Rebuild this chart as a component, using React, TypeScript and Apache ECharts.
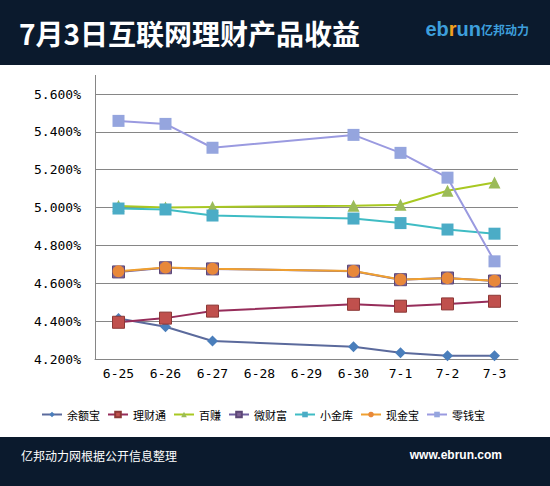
import React, { useEffect, useRef } from "react";
import * as echarts from "echarts";

const categories = ["6-25", "6-26", "6-27", "6-28", "6-29", "6-30", "7-1", "7-2", "7-3"];
const yuebao = [4.414, 4.37, 4.295, null, null, 4.265, 4.233, 4.217, 4.217];
const licaitong = [4.394, 4.416, 4.453, null, null, 4.489, 4.479, 4.491, 4.505];
const baizhuan = [5.008, 5.0, 5.003, null, null, 5.01, 5.015, 5.089, 5.133];
const weicaifu = [4.66, 4.682, 4.676, null, null, 4.664, 4.619, 4.628, 4.612];
const xiaojinku = [4.995, 4.99, 4.958, null, null, 4.942, 4.918, 4.884, 4.862];
const xianjinbao = [4.663, 4.683, 4.677, null, null, 4.665, 4.62, 4.627, 4.614];
const lingqianbao = [5.458, 5.442, 5.316, null, null, 5.384, 5.289, 5.158, 4.716];

const yMin = 4.2;
const yMax = 5.6;
const yStep = 0.2;

const titleText = "7月3日互联网理财产品收益";
const footerLeft = "亿邦动力网根据公开信息整理";
const footerRight = "www.ebrun.com";

export default function App() {
  const ref = useRef<HTMLDivElement>(null);
  useEffect(() => {
    document.body.style.margin = "0";
    const chart = echarts.init(ref.current!, null, { renderer: "svg" });
    const mk = (
      name: string,
      data: (number | null)[],
      symbol: string,
      size: number,
      itemColor: string,
      lineColor: string,
      borderColor?: string
    ) => ({
      name,
      type: "line",
      data,
      connectNulls: true,
      symbol,
      symbolSize: size,
      showAllSymbol: true,
      itemStyle: {
        color: itemColor,
        borderColor: borderColor || itemColor,
        borderWidth: borderColor ? 1 : 0,
        opacity: 1,
      },
      lineStyle: { color: lineColor, width: 2 },
      emphasis: { disabled: true },
    });
    chart.setOption({
      animation: false,
      backgroundColor: "#ffffff",
      textStyle: { fontFamily: "'Noto Sans CJK SC', sans-serif" },
      grid: { left: 95, right: 32, top: 94, bottom: 127, containLabel: false },
      xAxis: {
        type: "category",
        data: categories,
        boundaryGap: true,
        axisLine: { lineStyle: { color: "#868686", width: 1 } },
        axisTick: { show: false },
        axisLabel: {
          color: "#000",
          fontSize: 13,
          fontFamily: "'DejaVu Sans Mono', monospace",
          margin: 8,
          interval: 0,
        },
      },
      yAxis: {
        type: "value",
        min: yMin,
        max: yMax,
        interval: yStep,
        axisLine: { show: true, lineStyle: { color: "#868686", width: 1 } },
        axisTick: { show: false },
        splitLine: { lineStyle: { color: "#868686", width: 1 } },
        axisLabel: {
          color: "#000",
          fontSize: 13,
          fontFamily: "'DejaVu Sans Mono', monospace",
          margin: 14,
          formatter: (v: number) => v.toFixed(3) + "%",
        },
      },
      legend: {
        top: 404,
        left: 36,
        padding: 5,
        itemWidth: 20,
        itemHeight: 7,
        itemGap: 7,
        textStyle: { fontSize: 11, color: "#000" },
        data: ["余额宝", "理财通", "百赚", "微财富", "小金库", "现金宝", "零钱宝"],
      },
      graphic: [
        {
          type: "rect",
          shape: { x: 0, y: 0, width: 550, height: 65 },
          style: { fill: "#0b1a2d" },
        },
        {
          type: "rect",
          shape: { x: 0, y: 437, width: 550, height: 49 },
          style: { fill: "#0b1a2d" },
        },
        {
          type: "line",
          shape: { x1: 95.5, y1: 75, x2: 95.5, y2: 94 },
          style: { stroke: "#868686", lineWidth: 1 },
        },
        {
          type: "text",
          x: 19,
          y: 33,
          style: {
            text: titleText,
            fill: "#ffffff",
            fontSize: 28,
            fontWeight: "bold",
            fontFamily: "'Noto Sans CJK SC', sans-serif",
            verticalAlign: "middle",
            align: "left",
          },
        },
        {
          type: "text",
          x: 529,
          y: 29,
          style: {
            text: "{a|eb}{b|r}{a|un}{c|亿邦动力}",
            align: "right",
            verticalAlign: "middle",
            rich: {
              a: {
                fontSize: 20,
                fontWeight: "bold",
                fill: "#3d9fdc",
                color: "#3d9fdc",
                fontFamily: "'Liberation Sans', Arial, sans-serif",
              },
              b: {
                fontSize: 20,
                fontWeight: "bold",
                fill: "#f0a020",
                color: "#f0a020",
                fontFamily: "'Liberation Sans', Arial, sans-serif",
              },
              c: {
                fontSize: 12,
                fontWeight: "bold",
                fill: "#3d9fdc",
                color: "#3d9fdc",
                fontFamily: "'Noto Sans CJK SC', sans-serif",
              },
            },
          },
        },
        {
          type: "text",
          x: 21,
          y: 455,
          style: {
            text: footerLeft,
            fill: "#ffffff",
            fontSize: 12,
            fontFamily: "'Noto Sans CJK SC', sans-serif",
            verticalAlign: "middle",
          },
        },
        {
          type: "text",
          x: 502,
          y: 455,
          style: {
            text: footerRight,
            fill: "#ffffff",
            fontSize: 12,
            fontWeight: "bold",
            fontFamily: "'Liberation Sans', Arial, sans-serif",
            verticalAlign: "middle",
            align: "right",
          },
        },
      ],
      series: [
        mk("余额宝", yuebao, "diamond", 11, "#4a7ebb", "#5b6a9c"),
        mk("理财通", licaitong, "rect", 12, "#c0504d", "#962d5a", "#8c3836"),
        mk("百赚", baizhuan, "triangle", 12, "#9bbb59", "#a8c822"),
        mk("微财富", weicaifu, "rect", 12, "#7f6396", "#7060a0", "#5c4776"),
        mk("小金库", xiaojinku, "rect", 12, "#4bacc6", "#3fbcc4"),
        mk("现金宝", xianjinbao, "circle", 12, "#e8883a", "#f0a030"),
        mk("零钱宝", lingqianbao, "rect", 12, "#95a5de", "#9a9ae0"),
      ],
    });
    return () => chart.dispose();
  }, []);
  return <div ref={ref} style={{ width: 550, height: 486 }} />;
}
